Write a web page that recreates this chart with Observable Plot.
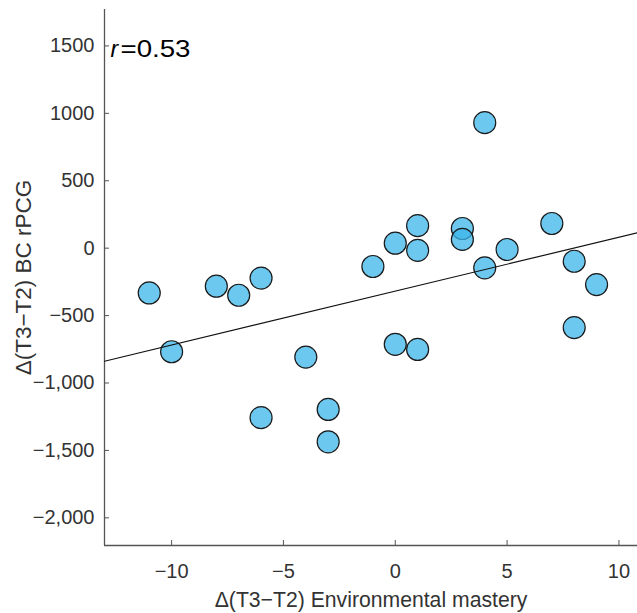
<!DOCTYPE html>
<html>
<head>
<meta charset="utf-8">
<script src="https://cdn.jsdelivr.net/npm/d3@7"></script>
<script src="https://cdn.jsdelivr.net/npm/@observablehq/plot@0.6"></script>
<style>
  html, body { margin: 0; padding: 0; background: #fff; }
  #chart svg { display: block; }
</style>
</head>
<body>
<div id="chart"></div>
<script>
// Data
const envMastery = [-11, -10, -8, -7, -6, -6, -4, -3, -3, -1, 0, 0, 1, 1, 1, 3, 3, 4, 4, 5, 7, 8, 8, 9];
const bcRPCG = [-332, -768, -282, -349, -222, -1257, -808, -1196, -1436, -136, 37, -713, 167, -16, -751, 146, 65, -146, 931, -10, 183, -97, -589, -270];

const xTicks = [-10, -5, 0, 5, 10];
const xTickLabels = ["\u221210", "\u22125", "0", "5", "10"];
const yTicks = [1500, 1000, 500, 0, -500, -1000, -1500, -2000];
const yTickLabels = ["1500", "1000", "500", "0", "\u2212500", "\u22121,000", "\u22121,500", "\u22122,000"];

const xDomain = [-13, 10.83];
const yDomain = [-2205, 1770];

const xLabel = "\u0394(T3\u2212T2) Environmental mastery";
const yLabel = "\u0394(T3\u2212T2) BC rPCG";
const rValue = "=0.53";

const points = envMastery.map((x, i) => ({x, y: bcRPCG[i]}));

// ordinary least squares fit, drawn across the full x domain
const mx = d3.mean(envMastery), my = d3.mean(bcRPCG);
const sxy = d3.sum(points, d => (d.x - mx) * (d.y - my));
const sxx = d3.sum(points, d => (d.x - mx) ** 2);
const slope = sxy / sxx, intercept = my - slope * mx;
const fitLine = xDomain.map(x => ({x, y: intercept + slope * x}));

const W = 637, H = 613, mT = 9, mB = 68, mL = 104, mR = 0;
const font = "'Liberation Sans', Arial, Helvetica, sans-serif";

function stretch(len) {
  return (index, scales, values, dims, context, next) => {
    const g = next(index, scales, values, dims, context);
    g.querySelectorAll("text").forEach(t => {
      t.setAttribute("textLength", len);
      t.setAttribute("lengthAdjust", "spacingAndGlyphs");
    });
    return g;
  };
}

const chart = Plot.plot({
  width: W,
  height: H,
  marginTop: mT,
  marginBottom: mB,
  marginLeft: mL,
  marginRight: mR,
  style: {fontFamily: font, background: "#fff", overflow: "visible"},
  x: {domain: xDomain},
  y: {domain: yDomain},
  marks: [
    Plot.axisY({
      ticks: yTicks,
      tickFormat: d => yTickLabels[yTicks.indexOf(d)],
      tickSize: 0,
      tickPadding: 10,
      fill: "#333",
      fontSize: 20,
      label: null
    }),
    Plot.axisX({
      ticks: xTicks,
      tickFormat: d => xTickLabels[xTicks.indexOf(d)],
      tickSize: 0,
      tickPadding: 18,
      fill: "#333",
      fontSize: 20,
      label: null
    }),
    // inward tick marks
    Plot.tickX(xTicks, {x: d => d, insetTop: H - mT - mB - 5, stroke: "#555", strokeWidth: 1}),
    Plot.tickY(yTicks, {y: d => d, insetRight: W - mL - mR - 5, stroke: "#555", strokeWidth: 1}),
    Plot.ruleX([xDomain[0]], {stroke: "#555", strokeWidth: 1.3}),
    Plot.ruleY([yDomain[0]], {stroke: "#555", strokeWidth: 1.3}),
    Plot.dot(points, {
      x: "x", y: "y", r: 11,
      fill: "rgb(60,182,235)", fillOpacity: 0.75,
      stroke: "#1a1a1a", strokeWidth: 1.2
    }),
    Plot.line(fitLine, {x: "x", y: "y", stroke: "#111", strokeWidth: 1.2}),
    // correlation annotation
    Plot.text(["r"], {
      frameAnchor: "top-left", textAnchor: "start", lineAnchor: "top",
      dx: 6, dy: 31, fontSize: 23, fontStyle: "italic", fill: "#000"
    }),
    Plot.text([rValue], {
      frameAnchor: "top-left", textAnchor: "start", lineAnchor: "top",
      dx: 16, dy: 31, fontSize: 23, fill: "#000",
      render: stretch(70)
    }),
    // axis titles
    Plot.text([xLabel], {
      frameAnchor: "bottom", textAnchor: "middle", lineAnchor: "top",
      dy: 46, fontSize: 21.2, fill: "#333"
    }),
    Plot.text([yLabel], {
      frameAnchor: "left", textAnchor: "middle", lineAnchor: "middle",
      rotate: -90, dx: -81, dy: 0, fontSize: 22.5, fill: "#333"
    })
  ]
});

document.getElementById("chart").appendChild(chart);
</script>
</body>
</html>
